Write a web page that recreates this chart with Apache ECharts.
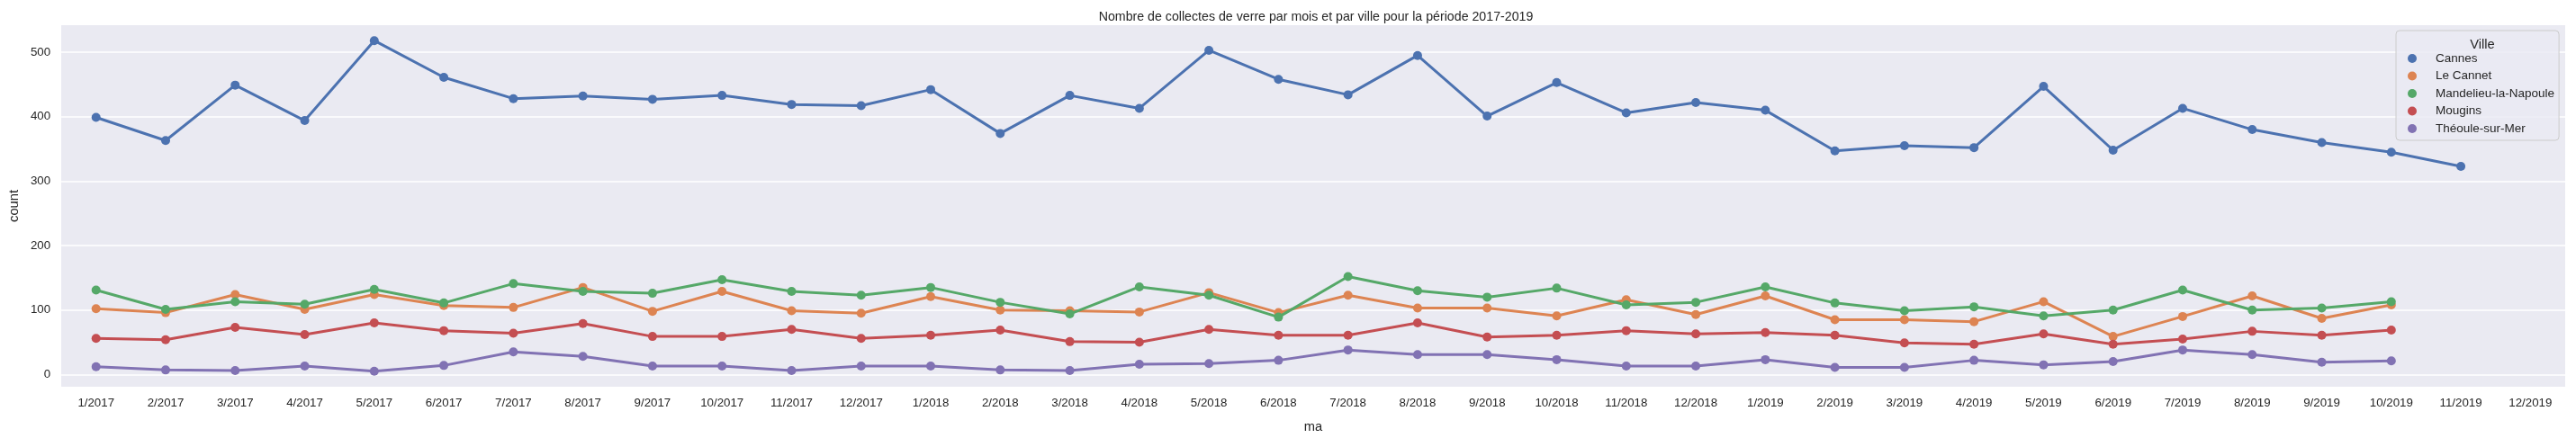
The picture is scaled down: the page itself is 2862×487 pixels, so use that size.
<!DOCTYPE html>
<html>
<head>
<meta charset="utf-8">
<script src="https://cdn.jsdelivr.net/npm/echarts@6/dist/echarts.min.js"></script>
<style>
html,body{margin:0;padding:0;background:#fff;}
#chart{width:2862px;height:487px;}
</style>
</head>
<body>
<div id="chart"></div>
<script>
const months = ["1/2017","2/2017","3/2017","4/2017","5/2017","6/2017","7/2017","8/2017","9/2017","10/2017","11/2017","12/2017",
"1/2018","2/2018","3/2018","4/2018","5/2018","6/2018","7/2018","8/2018","9/2018","10/2018","11/2018","12/2018",
"1/2019","2/2019","3/2019","4/2019","5/2019","6/2019","7/2019","8/2019","9/2019","10/2019","11/2019","12/2019"];

const cannes = [399,363,449,394,518,461,428,432,427,433,419,417,
442,374,433,413,503,458,434,495,401,453,406,422,
410,347,355,352,447,348,413,380,360,345,323,null];
const leCannet = [102,96,124,101,124,107,104,135,98,129,99,95,
121,100,99,97,127,96,123,103,103,91,116,93,
122,85,85,82,113,59,90,122,87,108,null,null];
const mandelieu = [131,101,113,109,132,111,141,129,126,147,129,123,
135,112,94,136,123,89,152,130,120,134,108,112,
136,111,99,105,91,100,131,100,103,113,null,null];
const mougins = [56,54,73,62,80,68,64,79,59,59,70,56,
61,69,51,50,70,61,61,80,58,61,68,63,
65,61,49,47,63,47,55,67,61,69,null,null];
const theoule = [12,7,6,13,5,14,35,28,13,13,6,13,
13,7,6,16,17,22,38,31,31,23,13,13,
23,11,11,22,15,20,38,31,19,21,null,null];

const yTicks = [0,100,200,300,400,500];
const cityNames = ["Cannes","Le Cannet","Mandelieu-la-Napoule","Mougins","Théoule-sur-Mer"];
const cityData = [cannes, leCannet, mandelieu, mougins, theoule];
const colors = ["#4C72B0","#DD8452","#55A868","#C44E52","#8172B3"];

const FONT = "Liberation Sans, Arial, sans-serif";
const chart = echarts.init(document.getElementById('chart'), null, {renderer:'canvas'});

const series = cityNames.map((n,i)=>({
  name:n, type:'line', data:cityData[i],
  symbol:'circle', symbolSize:10, showSymbol:true,
  lineStyle:{width:3, color:colors[i]},
  itemStyle:{color:colors[i]},
  emphasis:{disabled:true},
  animation:false, z:10+i
}));

chart.setOption({
  animation:false,
  backgroundColor:'#ffffff',
  color:colors,
  title:[
    {text:"Nombre de collectes de verre par mois et par ville pour la période 2017-2019",
     left:1457, top:7, textAlign:'center',
     textStyle:{fontFamily:FONT, fontSize:14.2, fontWeight:'normal', color:'#262626'}},
    {text:"Ville", left:2753, top:37, textAlign:'center',
     textStyle:{fontFamily:FONT, fontSize:14.7, fontWeight:'normal', color:'#262626'}, z:20}
  ],
  legend:{
    data:cityNames, orient:'vertical', left:2662, top:34,
    padding:[23,5,5,13],
    itemWidth:10, itemHeight:10, itemGap:3.5, icon:'circle',
    backgroundColor:'rgba(234,234,242,0.8)', borderColor:'#cccccc', borderWidth:1, borderRadius:4,
    textStyle:{fontFamily:FONT, fontSize:13.5, lineHeight:16, color:'#262626', padding:[0,0,0,16]},
    selectedMode:false, z:15
  },
  grid:{left:64, right:12, top:28, bottom:54, show:true, backgroundColor:'#EAEAF2', borderWidth:0},
  xAxis:{
    type:'category', data:months, boundaryGap:true,
    name:'ma', nameLocation:'middle', nameGap:37,
    nameTextStyle:{fontFamily:FONT, fontSize:14.7, color:'#262626'},
    axisLine:{show:false}, axisTick:{show:false},
    axisLabel:{fontFamily:FONT, fontSize:13.3, color:'#262626', margin:12, interval:0},
    splitLine:{show:false}
  },
  yAxis:{
    type:'value', min:-19, max:542,
    name:'count', nameLocation:'middle', nameGap:42, nameRotate:90,
    nameTextStyle:{fontFamily:FONT, fontSize:14.7, color:'#262626'},
    axisLine:{show:false},
    axisTick:{show:false, customValues:yTicks},
    axisLabel:{fontFamily:FONT, fontSize:13.3, color:'#262626', margin:12, customValues:yTicks},
    splitLine:{show:true, lineStyle:{color:'#ffffff', width:1.5}, customValues:yTicks}
  },
  series:series
});
</script>
</body>
</html>
